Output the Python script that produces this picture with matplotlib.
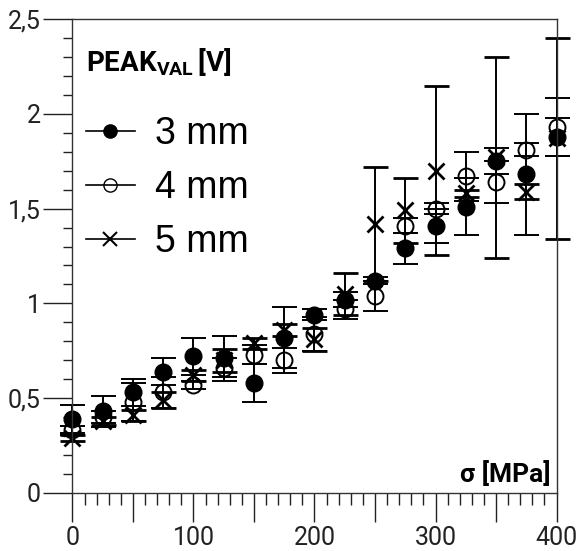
import matplotlib
matplotlib.use("Agg")
import matplotlib.pyplot as plt
from matplotlib.ticker import MultipleLocator, FuncFormatter
from matplotlib.lines import Line2D

# Datos
sigma = [0, 25, 50, 75, 100, 125, 150, 175, 200, 225, 250, 275, 300, 325, 350, 375, 400]

peak_3mm = [0.39, 0.43, 0.53, 0.64, 0.72, 0.71, 0.58, 0.82, 0.94, 1.02, 1.12, 1.29, 1.41, 1.51, 1.75, 1.68, 1.88]
err_3mm = [0.075, 0.08, 0.07, 0.07, 0.10, 0.12, 0.10, 0.16, 0.03, 0.04, 0.02, 0.08, 0.09, 0.15, 0.07, 0.32, 0.10]

peak_4mm = [0.33, 0.40, 0.48, 0.53, 0.57, 0.66, 0.73, 0.70, 0.84, 0.97, 1.04, 1.41, 1.50, 1.67, 1.64, 1.81, 1.93]
err_4mm = [0.025, 0.03, 0.10, 0.08, 0.02, 0.05, 0.05, 0.065, 0.09, 0.05, 0.08, 0.04, 0.03, 0.13, 0.11, 0.035, 0.155]

peak_5mm = [0.29, 0.38, 0.41, 0.49, 0.62, 0.70, 0.79, 0.86, 0.81, 1.05, 1.42, 1.49, 1.70, 1.58, 1.77, 1.59, 1.87]
err_5mm = [0.015, 0.02, 0.03, 0.04, 0.03, 0.06, 0.03, 0.03, 0.06, 0.11, 0.30, 0.17, 0.445, 0.02, 0.53, 0.04, 0.53]

plt.rcParams["font.family"] = "Roboto"
plt.rcParams["mathtext.fontset"] = "custom"
plt.rcParams["mathtext.rm"] = "Roboto"
plt.rcParams["mathtext.bf"] = "Roboto:bold"

fig = plt.figure(figsize=(5.77, 5.51), dpi=100)
ax = fig.add_axes([0.1256, 0.1053, 0.8389, 0.8602])

estilo = dict(color="black", ecolor="black", elinewidth=1.4, capsize=9,
              capthick=1.4, linestyle="none", clip_on=False)

ax.errorbar(sigma, peak_5mm, yerr=err_5mm, marker="x", markersize=12,
            markeredgewidth=2, **estilo)
ax.errorbar(sigma, peak_4mm, yerr=err_4mm, marker="o", markersize=11.5,
            markerfacecolor="none", markeredgewidth=1.4, **estilo)
ax.errorbar(sigma, peak_3mm, yerr=err_3mm, marker="o", markersize=12,
            markerfacecolor="black", **estilo)

ax.set_xlim(0, 400)
ax.set_ylim(0, 2.5)

ax.xaxis.set_major_locator(MultipleLocator(50))
ax.xaxis.set_minor_locator(MultipleLocator(10))
ax.xaxis.set_major_formatter(FuncFormatter(
    lambda v, p: f"{v:.0f}" if round(v) % 100 == 0 else ""))
ax.yaxis.set_major_locator(MultipleLocator(0.5))
ax.yaxis.set_minor_locator(MultipleLocator(0.1))
ax.yaxis.set_major_formatter(FuncFormatter(
    lambda v, p: f"{v:g}".replace(".", ",")))

ax.tick_params(which="major", length=21, width=1.0, color="#222222",
               labelsize=18, labelcolor="#222222")
ax.tick_params(axis="x", which="major", pad=3)
ax.tick_params(axis="y", which="major", pad=2)
ax.tick_params(axis="x", which="minor", length=8.5, width=1.0, color="#222222")
ax.tick_params(axis="y", which="minor", length=6.7, width=1.0, color="#222222")

for s in ax.spines.values():
    s.set_linewidth(1.0)
    s.set_color("#333333")

ax.text(0.028, 0.89, r"$\mathbf{PEAK_{VAL}\,[V]}$", transform=ax.transAxes,
        fontsize=20, va="baseline", ha="left")
ax.text(0.988, 0.012, "σ [MPa]", transform=ax.transAxes, fontsize=19,
        fontweight="bold", ha="right", va="bottom")

handles = [
    Line2D([], [], color="black", lw=1.2, marker="o", markersize=9.5,
           markerfacecolor="black"),
    Line2D([], [], color="black", lw=1.2, marker="o", markersize=9.5,
           markerfacecolor="none"),
    Line2D([], [], color="black", lw=1.2, marker="x", markersize=9.5,
           markeredgewidth=1.5),
]
ax.legend(handles, ["3 mm", "4 mm", "5 mm"], loc="upper left",
          bbox_to_anchor=(0.028, 0.795), frameon=False, borderaxespad=0,
          borderpad=0, handlelength=1.3, handletextpad=0.55,
          labelspacing=0.48, prop={"family": "Liberation Sans", "size": 27})

plt.savefig("out.png", dpi=100)
